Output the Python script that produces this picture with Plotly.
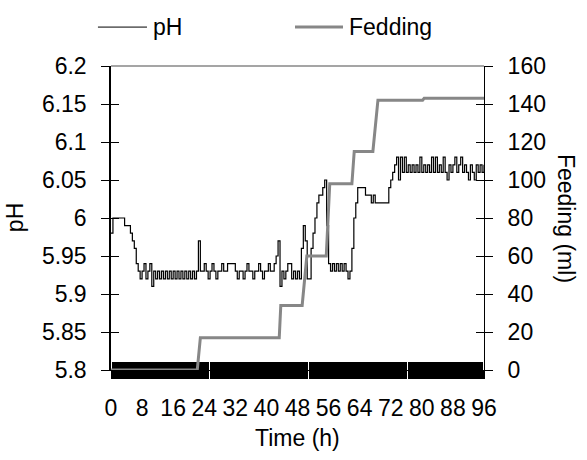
import plotly.graph_objects as go

# ---- data ----
time_step = 0.5
ph_values = [
    5.98, 6.00, 6.00, 6.00, 6.00, 6.00, 6.00, 5.99, 5.99, 5.99,   # 0-4.5
    5.98, 5.97, 5.96, 5.94, 5.93, 5.92, 5.93, 5.94, 5.92, 5.93,   # 5-9.5
    5.94, 5.91, 5.93, 5.92, 5.93, 5.92, 5.93, 5.92, 5.93, 5.92,   # 10-14.5
    5.93, 5.92, 5.93, 5.92, 5.93, 5.92, 5.93, 5.92, 5.93, 5.92,   # 15-19.5
    5.93, 5.92, 5.93, 5.92, 5.93, 5.97, 5.93, 5.93, 5.94, 5.93,   # 20-24.5
    5.92, 5.93, 5.94, 5.93, 5.92, 5.93, 5.93, 5.94, 5.93, 5.93,   # 25-29.5
    5.94, 5.94, 5.94, 5.94, 5.93, 5.92, 5.93, 5.93, 5.92, 5.93,   # 30-34.5
    5.94, 5.93, 5.93, 5.92, 5.93, 5.93, 5.94, 5.93, 5.92, 5.93,   # 35-39.5
    5.93, 5.94, 5.93, 5.93, 5.94, 5.95, 5.97, 5.91, 5.93, 5.92,   # 40-44.5
    5.93, 5.94, 5.94, 5.92, 5.93, 5.92, 5.93, 5.92, 5.96, 5.99,   # 45-49.5
    5.97, 5.92, 5.92, 5.96, 5.98, 6.00, 6.02, 6.03, 6.03, 6.04,   # 50-54.5
    6.05, 5.99, 5.94, 5.93, 5.94, 5.93, 5.94, 5.93, 5.94, 5.93,   # 55-59.5
    5.94, 5.93, 5.92, 5.93, 5.96, 6.00, 6.02, 6.04, 6.04, 6.04,   # 60-64.5
    6.04, 6.03, 6.03, 6.03, 6.02, 6.03, 6.02, 6.02, 6.02, 6.02,   # 65-69.5
    6.02, 6.02, 6.02, 6.04, 6.05, 6.06, 6.07, 6.08, 6.05, 6.08,   # 70-74.5
    6.06, 6.08, 6.06, 6.07, 6.06, 6.07, 6.06, 6.07, 6.06, 6.08,   # 75-79.5
    6.06, 6.07, 6.06, 6.07, 6.06, 6.08, 6.06, 6.08, 6.06, 6.07,   # 80-84.5
    6.06, 6.08, 6.06, 6.05, 6.07, 6.06, 6.07, 6.08, 6.06, 6.07,   # 85-89.5
    6.08, 6.06, 6.07, 6.06, 6.05, 6.07, 6.06, 6.05, 6.07, 6.06,   # 90-94.5
    6.07, 6.06, 6.07,                                             # 95-96
]
ph_time = [i * time_step for i in range(len(ph_values))]

feed_time = [0, 22.2, 23.0, 43.3, 43.7, 49.2, 50.4, 55.4, 56.3, 62.0, 62.6, 67.4, 68.7, 80.2, 80.6, 96]
feed_values = [0, 0, 17, 17, 34, 34, 60, 60, 98, 98, 115, 115, 142, 142, 143, 143]

x_ticks = [0, 8, 16, 24, 32, 40, 48, 56, 64, 72, 80, 88, 96]
ph_ticks = [5.8, 5.85, 5.9, 5.95, 6.0, 6.05, 6.1, 6.15, 6.2]
ph_ticktext = ["5.8", "5.85", "5.9", "5.95", "6", "6.05", "6.1", "6.15", "6.2"]
feed_ticks = [0, 20, 40, 60, 80, 100, 120, 140, 160]

FONT = "Arial, Liberation Sans, sans-serif"
FS = 23
GRAY = "#878787"

fig = go.Figure()
# empty traces to activate the lower axes
fig.add_trace(go.Scatter(x=[], y=[], xaxis="x", yaxis="y", showlegend=False))
fig.add_trace(go.Scatter(x=[], y=[], xaxis="x", yaxis="y2", showlegend=False))
# data on the overlay (upper) subplots so lines sit above the dense tick band
fig.add_trace(go.Scatter(x=ph_time, y=ph_values, mode="lines", name="pH", line_shape="hv",
                         line=dict(color="black", width=1.2), xaxis="x2", yaxis="y3",
                         showlegend=False))
fig.add_trace(go.Scatter(x=feed_time, y=feed_values, mode="lines", name="Fedding",
                         line=dict(color=GRAY, width=3), xaxis="x2", yaxis="y4",
                         showlegend=False))

tick_common = dict(tickcolor="black", ticklen=8, tickwidth=1)
minor_dt = 0.26

fig.update_layout(
    width=587, height=460,
    margin=dict(l=111, r=103, t=66, b=90),
    paper_bgcolor="white", plot_bgcolor="white",
    font=dict(family=FONT, size=FS, color="black"),
    xaxis=dict(range=[0, 96], tickvals=x_ticks, ticks="outside", **tick_common,
               showline=True, linecolor="black", linewidth=1, showgrid=False, zeroline=False,
               ticklabelstandoff=9, layer="below traces",
               minor=dict(dtick=minor_dt, ticks="outside", ticklen=8, tickcolor="black", tickwidth=1)),
    xaxis2=dict(range=[0, 96], overlaying="x", anchor="y3", side="bottom", tickvals=x_ticks,
                ticks="inside", **tick_common, showticklabels=False, showline=False,
                showgrid=False, zeroline=False, layer="below traces",
                minor=dict(dtick=minor_dt, ticks="inside", ticklen=8, tickcolor="black", tickwidth=1)),
    yaxis=dict(range=[5.8, 6.2], tickvals=ph_ticks, ticktext=ph_ticktext, ticks="outside",
               **tick_common, showline=True, linecolor="black", linewidth=1.5,
               showgrid=False, zeroline=False, ticklabelstandoff=10, layer="below traces"),
    yaxis2=dict(range=[0, 160], tickvals=feed_ticks, overlaying="y", side="right", anchor="x",
                ticks="outside", **tick_common, showline=True, linecolor="black", linewidth=1,
                showgrid=False, zeroline=False, ticklabelstandoff=10, layer="below traces"),
    yaxis3=dict(range=[5.8, 6.2], tickvals=ph_ticks, overlaying="y", side="left", anchor="x2",
                ticks="inside", **tick_common, showticklabels=False, showline=False,
                showgrid=False, zeroline=False, layer="below traces"),
    yaxis4=dict(range=[0, 160], tickvals=feed_ticks, overlaying="y", side="right", anchor="x2",
                ticks="inside", **tick_common, showticklabels=False, showline=False,
                showgrid=False, zeroline=False, layer="below traces"),
    shapes=[
        dict(type="line", xref="paper", yref="paper", x0=0, x1=1, y0=1, y1=1,
             line=dict(color=GRAY, width=1.5)),
        # legend samples
        dict(type="line", xref="paper", yref="paper", x0=-0.035, x1=0.0965, y0=1.128, y1=1.128,
             line=dict(color="black", width=1)),
        dict(type="line", xref="paper", yref="paper", x0=0.4933, x1=0.622, y0=1.128, y1=1.128,
             line=dict(color=GRAY, width=3)),
    ],
    annotations=[
        dict(text="pH", xref="paper", yref="paper", x=0.108, y=1.128, xanchor="left",
             yanchor="middle", showarrow=False),
        dict(text="Fedding", xref="paper", yref="paper", x=0.633, y=1.128, xanchor="left",
             yanchor="middle", showarrow=False),
        dict(text="Time (h)", xref="paper", yref="paper", x=0.5, y=-0.224, xanchor="center",
             yanchor="middle", showarrow=False),
        dict(text="pH", xref="paper", yref="paper", x=-0.257, y=0.5, xanchor="center",
             yanchor="middle", textangle=-90, showarrow=False),
        dict(text="Feeding (ml)", xref="paper", yref="paper", x=1.22, y=0.5, xanchor="center",
             yanchor="middle", textangle=90, showarrow=False),
    ],
)

fig.write_html("out.html", config={"displayModeBar": False},
               post_script="document.body.style.margin='0';")
